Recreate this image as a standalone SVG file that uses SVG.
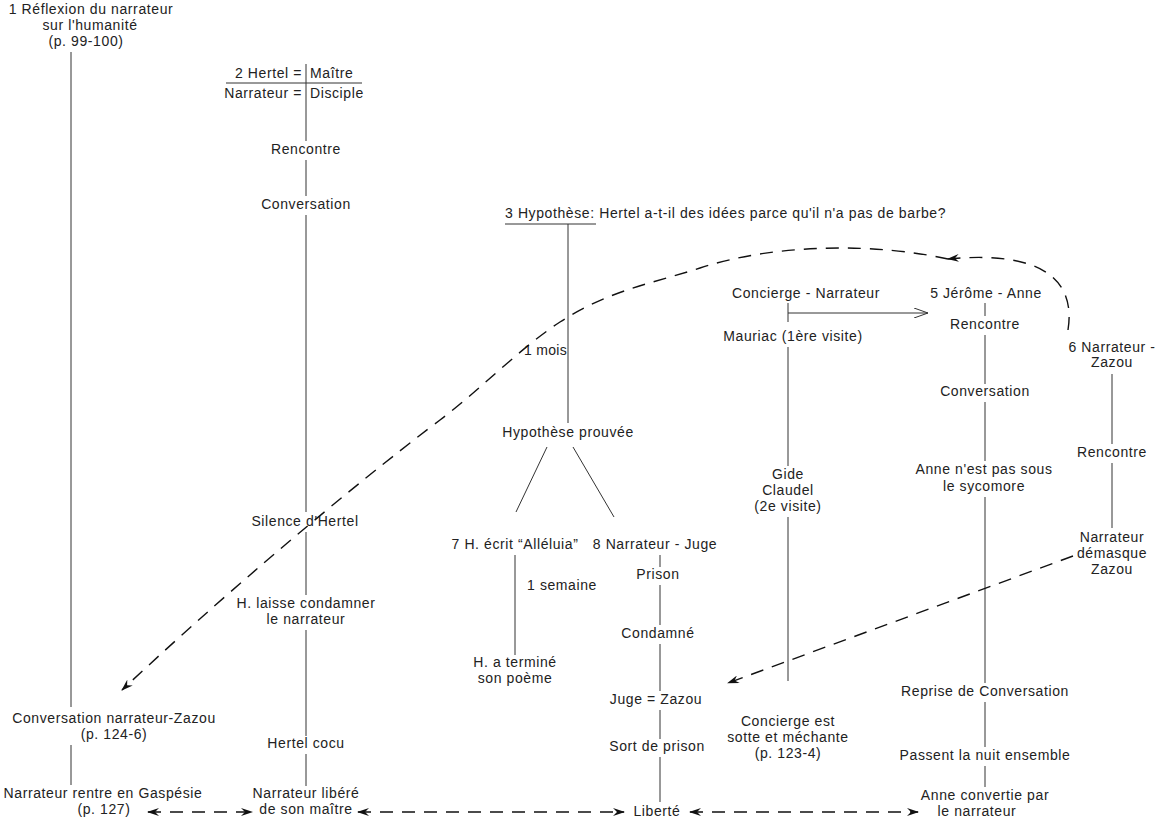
<svg xmlns="http://www.w3.org/2000/svg" width="1160" height="825" viewBox="0 0 1160 825">
<defs>
<style>
text{font-family:"Liberation Sans",Arial,sans-serif;font-size:14px;letter-spacing:0.6px;fill:#222}
.c{text-anchor:middle}
.r{text-anchor:end}
.ln{stroke:#333;stroke-width:1;fill:none}
.d{stroke:#111;stroke-width:1.4;fill:none;stroke-dasharray:13 9}
</style>
<marker id="ah" viewBox="0 0 12 8" refX="11" refY="4" markerWidth="12" markerHeight="8" markerUnits="userSpaceOnUse" orient="auto-start-reverse">
<path d="M0,0 L12,4 L0,8 L4,4 z" fill="#111"/>
</marker>
<marker id="oa" viewBox="0 0 14 10" refX="14" refY="5" markerWidth="14" markerHeight="10" markerUnits="userSpaceOnUse" orient="auto">
<path d="M0,0 L14,5 L0,10" fill="none" stroke="#333" stroke-width="1"/>
</marker>
</defs>
<rect width="1160" height="825" fill="#fff"/>

<g id="n1">
<text class="c" x="91" y="14">1 Réflexion du narrateur</text>
<text class="c" x="90" y="30">sur l'humanité</text>
<text class="c" x="86" y="46">(p. 99-100)</text>
</g>
<g id="n1b">
<text class="c" x="114" y="723">Conversation narrateur-Zazou</text>
<text class="c" x="114" y="739">(p. 124-6)</text>
</g>
<g id="n1c">
<text class="c" x="103" y="798">Narrateur rentre en Gaspésie</text>
<text class="c" x="104" y="814">(p. 127)</text>
</g>

<g id="n2">
<text class="r" x="302" y="78">2 Hertel =</text>
<text x="310" y="78">Maître</text>
<line class="ln" x1="226" y1="83" x2="362" y2="83"/>
<text class="r" x="302" y="98">Narrateur =</text>
<text x="310" y="98">Disciple</text>
</g>
<g id="n2a"><text class="c" x="306" y="154">Rencontre</text></g>
<g id="n2b"><text class="c" x="306" y="209">Conversation</text></g>
<g id="n2c"><text class="c" x="305" y="526">Silence d'Hertel</text></g>
<g id="n2d">
<text class="c" x="306" y="608">H. laisse condamner</text>
<text class="c" x="306" y="624">le narrateur</text>
</g>
<g id="n2e"><text class="c" x="306" y="748">Hertel cocu</text></g>
<g id="n2f">
<text class="c" x="306" y="798">Narrateur libéré</text>
<text class="c" x="306" y="814">de son maître</text>
</g>

<g id="n3">
<text x="505" y="218">3 Hypothèse: Hertel a-t-il des idées parce qu'il n'a pas de barbe?</text>
<line class="ln" x1="505" y1="224" x2="596" y2="224"/>
</g>
<g id="n3a"><text x="524" y="355" style="letter-spacing:0.3px">1 mois</text></g>
<g id="n3b"><text class="c" x="568" y="437">Hypothèse prouvée</text></g>

<g id="n7"><text class="c" x="515" y="549">7 H. écrit “Alléluia”</text></g>
<g id="n7a"><text x="527" y="590">1 semaine</text></g>
<g id="n7b">
<text class="c" x="515" y="667">H. a terminé</text>
<text class="c" x="515" y="683">son poème</text>
</g>

<g id="n8"><text class="c" x="655" y="549">8 Narrateur - Juge</text></g>
<g id="n8a"><text class="c" x="658" y="579">Prison</text></g>
<g id="n8b"><text class="c" x="658" y="638">Condamné</text></g>
<g id="n8c"><text class="c" x="656" y="704">Juge = Zazou</text></g>
<g id="n8d"><text class="c" x="657" y="751">Sort de prison</text></g>
<g id="n8e"><text class="c" x="657" y="816">Liberté</text></g>

<g id="n4"><text class="c" x="806" y="298">Concierge - Narrateur</text></g>
<g id="n4a"><text class="c" x="793" y="341">Mauriac (1ère visite)</text></g>
<g id="n4b">
<text class="c" x="788" y="479">Gide</text>
<text class="c" x="788" y="495">Claudel</text>
<text class="c" x="788" y="511">(2e visite)</text>
</g>
<g id="n4c">
<text class="c" x="788" y="726">Concierge est</text>
<text class="c" x="788" y="742">sotte et méchante</text>
<text class="c" x="788" y="758">(p. 123-4)</text>
</g>

<g id="n5"><text class="c" x="986" y="298">5 Jérôme - Anne</text></g>
<g id="n5a"><text class="c" x="985" y="329">Rencontre</text></g>
<g id="n5b"><text class="c" x="985" y="396">Conversation</text></g>
<g id="n5c">
<text class="c" x="984" y="474">Anne n'est pas sous</text>
<text class="c" x="984" y="491">le sycomore</text>
</g>
<g id="n5d"><text class="c" x="985" y="696">Reprise de Conversation</text></g>
<g id="n5e"><text class="c" x="985" y="760">Passent la nuit ensemble</text></g>
<g id="n5f">
<text class="c" x="985" y="800">Anne convertie par</text>
<text class="c" x="977" y="816">le narrateur</text>
</g>

<g id="n6">
<text class="c" x="1112" y="352">6 Narrateur -</text>
<text class="c" x="1112" y="367">Zazou</text>
</g>
<g id="n6a"><text class="c" x="1112" y="457">Rencontre</text></g>
<g id="n6b">
<text class="c" x="1112" y="542">Narrateur</text>
<text class="c" x="1112" y="558">démasque</text>
<text class="c" x="1112" y="574">Zazou</text>
</g>

<g id="connectors">
<line class="ln" x1="71" y1="52" x2="71" y2="707"/>
<line class="ln" x1="71" y1="745" x2="71" y2="785"/>
<line class="ln" x1="306" y1="64" x2="306" y2="104"/>
<line class="ln" x1="306" y1="104" x2="306" y2="141"/>
<line class="ln" x1="306" y1="160" x2="306" y2="196"/>
<line class="ln" x1="306" y1="215" x2="306" y2="512"/>
<line class="ln" x1="306" y1="532" x2="306" y2="595"/>
<line class="ln" x1="306" y1="630" x2="306" y2="736"/>
<line class="ln" x1="306" y1="754" x2="306" y2="786"/>
<line class="ln" x1="568" y1="224" x2="568" y2="423"/>
<line class="ln" x1="547" y1="447" x2="516" y2="512"/>
<line class="ln" x1="573" y1="447" x2="614" y2="517"/>
<line class="ln" x1="515" y1="555" x2="515" y2="655"/>
<line class="ln" x1="660" y1="555" x2="660" y2="567"/>
<line class="ln" x1="660" y1="585" x2="660" y2="625"/>
<line class="ln" x1="660" y1="644" x2="660" y2="691"/>
<line class="ln" x1="660" y1="710" x2="660" y2="739"/>
<line class="ln" x1="660" y1="757" x2="660" y2="802"/>
<line class="ln" x1="788" y1="303" x2="788" y2="322"/>
<line class="ln" x1="788" y1="313" x2="928" y2="313" marker-end="url(#oa)"/>
<line class="ln" x1="788" y1="347" x2="788" y2="466"/>
<line class="ln" x1="788" y1="517" x2="788" y2="681"/>
<line class="ln" x1="985" y1="303" x2="985" y2="316"/>
<line class="ln" x1="985" y1="335" x2="985" y2="384"/>
<line class="ln" x1="985" y1="402" x2="985" y2="461"/>
<line class="ln" x1="985" y1="497" x2="985" y2="683"/>
<line class="ln" x1="985" y1="702" x2="985" y2="747"/>
<line class="ln" x1="985" y1="766" x2="985" y2="787"/>
<line class="ln" x1="1112" y1="374" x2="1112" y2="444"/>
<line class="ln" x1="1112" y1="463" x2="1112" y2="528"/>
<path class="d" d="M1068,330 C1076,280 1042,250 948,259" marker-end="url(#ah)"/>
<path class="d" d="M948,259 C880,244 780,242 700,268 C650,284 610,290 560,322 C520,348 480,390 440,420 C380,465 250,570 122,690" marker-end="url(#ah)"/>
<path class="d" d="M1073,556 L728,683" marker-end="url(#ah)"/>
<path class="d" d="M148,812 L252,812" marker-start="url(#ah)" marker-end="url(#ah)"/>
<path class="d" d="M358,812 L624,812" marker-start="url(#ah)" marker-end="url(#ah)"/>
<path class="d" d="M690,812 L918,812" marker-start="url(#ah)" marker-end="url(#ah)"/>
</g>
</svg>
